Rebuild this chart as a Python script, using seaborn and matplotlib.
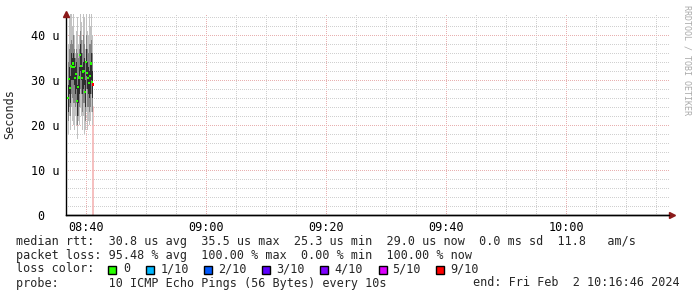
import matplotlib
matplotlib.use("Agg")
import matplotlib.pyplot as plt
import matplotlib.ticker as mticker
from matplotlib.patches import Rectangle
import seaborn as sns
import pandas as pd

# ---------------- data ----------------
times = ["08:37:00", "08:37:10", "08:37:20", "08:37:30", "08:37:40", "08:37:50",
         "08:38:00", "08:38:10", "08:38:20", "08:38:30", "08:38:40", "08:38:50",
         "08:39:00", "08:39:10", "08:39:20", "08:39:30", "08:39:40", "08:39:50",
         "08:40:00", "08:40:10", "08:40:20", "08:40:30", "08:40:40", "08:40:50",
         "08:41:00", "08:41:10"]
median = [26.1, 30.2, 28.2, 33.2, 33.0, 33.7, 33.0, 30.5, 31.3, 25.3, 28.4, 30.6, 35.5,
          33.1, 30.5, 31.9, 32.0, 27.3, 34.1, 31.6, 30.5, 29.3, 30.9, 33.7, 29.5, 29.0]
loss = ["0"] * 25 + ["9/10"]
hi_out = [38, 44, 45, 45, 42, 45, 40, 36, 41, 44, 38, 40, 45, 43, 39, 45, 44, 37, 45, 41, 40, 45, 42, 45, 40, 37]
hi_mid = [34, 37, 38, 39, 38, 40, 37, 35, 37, 36, 35, 37, 41, 39, 36, 40, 38, 34, 40, 37, 36, 38, 38, 39, 36, 34]
hi_in = [29, 33, 31, 36, 35, 36, 35, 33, 34, 29, 31, 33, 38, 36, 33, 34, 35, 30, 37, 34, 33, 32, 34, 36, 32, 31]
lo_in = [23, 27, 25, 30, 30, 30, 29, 27, 28, 22, 25, 27, 32, 30, 27, 28, 29, 24, 31, 28, 27, 26, 27, 30, 26, 27]
lo_mid = [21, 24, 22, 27, 26, 25, 25, 24, 25, 20, 22, 24, 28, 27, 23, 25, 25, 21, 28, 24, 24, 23, 24, 27, 23, 25]
lo_out = [18, 22, 19, 24, 21, 20, 19, 22, 20, 17, 21, 20, 24, 22, 19, 22, 18, 19, 23, 19, 21, 20, 21, 23, 20, 24.5]
loss_bar_time = "08:41:10"
loss_bar_height = 24.0

y_ticks = [0, 10, 20, 30, 40]
y_tick_labels = ["0  ", "10 u", "20 u", "30 u", "40 u"]
x_major = ["08:40", "09:00", "09:20", "09:40", "10:00"]
x_start, x_end = "08:36:40", "10:17:10"

loss_names = ["0", "1/10", "2/10", "3/10", "4/10", "5/10", "9/10"]
loss_colors = ["#26ff00", "#00b8ff", "#0059ff", "#5e00ff", "#7e00ff", "#dd00ff", "#ff0000"]

line1 = "median rtt:  30.8 us avg  35.5 us max  25.3 us min  29.0 us now  0.0 ms sd  11.8   am/s"
line2 = "packet loss: 95.48 % avg  100.00 % max  0.00 % min  100.00 % now"
line3 = "loss color:"
line4 = "probe:       10 ICMP Echo Pings (56 Bytes) every 10s"
line4r = "end: Fri Feb  2 10:16:46 2024"
watermark = "RRDTOOL / TOBI OETIKER"
ylabel = "Seconds"


def tmin(s):
    parts = [int(p) for p in s.split(":")]
    while len(parts) < 3:
        parts.append(0)
    return parts[0] * 60 + parts[1] + parts[2] / 60.0


df = pd.DataFrame({"t": [tmin(t) for t in times], "median": median, "loss": loss,
                   "hi_out": hi_out, "hi_mid": hi_mid, "hi_in": hi_in,
                   "lo_in": lo_in, "lo_mid": lo_mid, "lo_out": lo_out})

# ---------------- figure ----------------
sns.set_theme(style="white")
plt.rcParams["font.family"] = ["DejaVu Sans Mono"]
W, H = 697, 297
fig = plt.figure(figsize=(W / 100, H / 100), dpi=100)
fig.patch.set_facecolor("white")
L, R, T, B = 66, 669, 14, 215
ax = fig.add_axes([L / W, 1 - B / H, (R - L) / W, (B - T) / H])
ax.set_facecolor("white")
FS = 8.5

ax.set_xlim(tmin(x_start), tmin(x_end))
ax.set_ylim(0, 44.7)

# grid
ax.xaxis.set_major_locator(mticker.FixedLocator([tmin(x) for x in x_major]))
ax.xaxis.set_minor_locator(mticker.MultipleLocator(5))
ax.yaxis.set_major_locator(mticker.FixedLocator(y_ticks))
ax.yaxis.set_minor_locator(mticker.MultipleLocator(2))
ax.set_xticklabels(x_major)
ax.set_yticklabels(y_tick_labels)
ax.grid(which="minor", color="#d0d0d0", linestyle=(0.5, (1, 1)), linewidth=0.72)
ax.grid(which="major", color="#e8b0b0", linestyle=(0.5, (1, 1)), linewidth=0.72)
ax.set_axisbelow(True)
ax.tick_params(which="both", length=0, labelsize=FS, colors="black", pad=5)
ax.tick_params(axis="x", pad=4)
for lab in ax.get_yticklabels() + ax.get_xticklabels():
    lab.set_family("DejaVu Sans Mono")

# loss bar
ax.plot([tmin(loss_bar_time)] * 2, [0, loss_bar_height], color="#f4b4b4", lw=1.2, zorder=2)

# smoke
shades = [("lo_out", "hi_out", "#c2c2c2"), ("lo_mid", "hi_mid", "#858585"),
          ("lo_in", "hi_in", "#2e2e2e")]
for lo, hi, c in shades:
    ax.fill_between(df["t"], df[lo], df[hi], step="mid", color=c, lw=0, zorder=3)

# medians
sns.scatterplot(data=df, x="t", y="median", hue="loss", palette={"0": "#26ff00", "9/10": "#ff0000"},
                marker="s", s=2.5, linewidth=0, ax=ax, legend=False, zorder=5)
ax.set_xlabel("")
ax.set_ylabel(ylabel, fontsize=FS, labelpad=10)

# spines and arrows
for s in ["top", "right"]:
    ax.spines[s].set_visible(False)
for s in ["left", "bottom"]:
    ax.spines[s].set_color("black")
    ax.spines[s].set_linewidth(1.0)
ax.plot([0], [1.0], transform=ax.transAxes, marker="^", color="#8b1a1a", ms=4.5, clip_on=False, zorder=6)
ax.plot([1.005], [0], transform=ax.transAxes, marker=">", color="#8b1a1a", ms=4.5, clip_on=False, zorder=6)
ax.plot([0, 1.0], [0, 0], transform=ax.transAxes, color="black", lw=1.0, clip_on=False, zorder=6)

# ---------------- legend text ----------------
def fx(px):
    return px / W


def fy(py):
    return 1 - py / H


fig.text(fx(16), fy(241), line1, fontsize=FS, va="center", ha="left")
fig.text(fx(16), fy(255), line2, fontsize=FS, va="center", ha="left")
fig.text(fx(16), fy(269), line3, fontsize=FS, va="center", ha="left")
fig.text(fx(16), fy(283), line4, fontsize=FS, va="center", ha="left")
fig.text(fx(680), fy(283), line4r, fontsize=FS, va="center", ha="right")

box_x = [108, 146, 204, 262, 320, 379, 436]
lab_x = [123, 160.5, 218, 276, 334, 392, 450]
for bx, lx, name, col in zip(box_x, lab_x, loss_names, loss_colors):
    fig.patches.append(Rectangle((fx(bx), fy(273.5)), 8 / W, 8 / H, transform=fig.transFigure,
                                 facecolor=col, edgecolor="black", linewidth=1.0))
    fig.text(fx(lx), fy(269), name, fontsize=FS, va="center", ha="left")

fig.text(fx(687), fy(5), watermark, fontsize=6, color="#aaaaaa", rotation=270,
         va="top", ha="center")

fig.savefig("out.png", dpi=100, facecolor="white")
